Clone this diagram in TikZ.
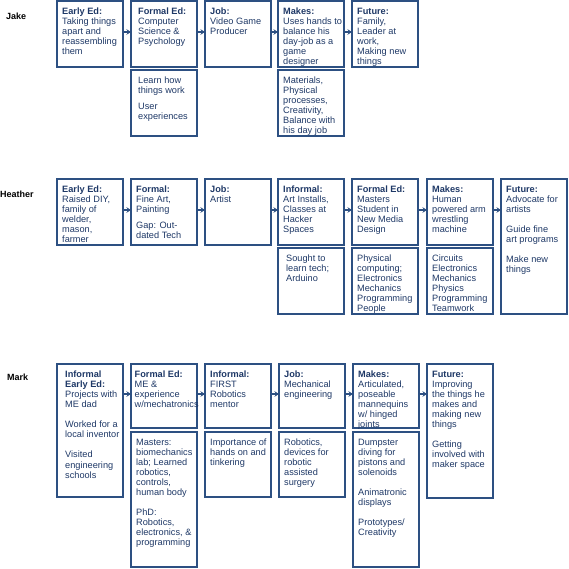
\documentclass[tikz,border=0pt]{standalone}
\usepackage{fontspec}
\setmainfont{Liberation Sans}
\usepackage{xcolor}
\usepackage{tikz}
\usetikzlibrary{arrows.meta,calc}
\definecolor{cardline}{RGB}{45,80,130}
\definecolor{cardink}{RGB}{30,56,102}
\tikzset{
  card/.style={draw=cardline, line width=1.8pt, outer sep=0pt, inner sep=0pt,
    anchor=north west, minimum width=66pt, minimum height=#1},
  card/.default=66pt,
  cardtext/.style={anchor=north west, align=left, inner xsep=5pt, inner ysep=6.5pt,
    text=cardink, font=\fontsize{9.2}{10.1}\selectfont},
  say/.style={label={[cardtext]north west:{#1}}},
  who/.style={anchor=west, inner sep=0pt, font=\fontsize{9}{10}\selectfont\bfseries},
  flow/.style={draw=cardline, line width=1.3pt, -{Stealth[length=4.5pt,width=5.5pt]}}
}
\begin{document}
\begin{tikzpicture}[x=1pt,y=-1pt]
	\useasboundingbox (0,0) rectangle (568,569);
	% Jake
	\node[who] (jake) at (6,16) {Jake};
	\node[card, say={\textbf{Early Ed:}\\Taking things\\apart and\\reassembling\\them}] (j1) at (57,1) {};
	\node[card, label={[cardtext,inner xsep=7pt]north west:{\textbf{Formal Ed:}\\Computer\\Science \&\\Psychology}}] (j2) at (131,1) {};
	\node[card, label={[cardtext,inner xsep=7pt]north west:{Learn how\\things work\\[6pt]User\\experiences}}] (j2b) at (131,70) {};
	\node[card, say={\textbf{Job:}\\Video Game\\Producer}] (j3) at (205,1) {};
	\node[card, say={\textbf{Makes:}\\Uses hands to\\balance his\\day-job as a\\game\\designer}] (j4) at (278,1) {};
	\node[card, say={Materials,\\Physical\\processes,\\Creativity,\\Balance with\\his day job}] (j4b) at (278,70) {};
	\node[card, say={\textbf{Future:}\\Family,\\Leader at\\work,\\Making new\\things}] (j5) at (352,1) {};
	% Heather
	\node[who] (heather) at (0,194) {Heather};
	\node[card, say={\textbf{Early Ed:}\\Raised DIY,\\family of\\welder,\\mason,\\farmer}] (h1) at (57,179) {};
	\node[card, say={\textbf{Formal:}\\Fine Art,\\Painting\\[6pt]Gap: Out-\\dated Tech}] (h2) at (131,179) {};
	\node[card, say={\textbf{Job:}\\Artist}] (h3) at (205,179) {};
	\node[card, say={\textbf{Informal:}\\Art Installs,\\Classes at\\Hacker\\Spaces}] (h4) at (278,179) {};
	\node[card, label={[cardtext,inner xsep=8pt]north west:{Sought to\\learn tech;\\Arduino}}] (h4b) at (278,248) {};
	\node[card, say={\textbf{Formal Ed:}\\Masters\\Student in\\New Media\\Design}] (h5) at (352,179) {};
	\node[card, say={Physical\\computing;\\Electronics\\Mechanics\\Programming\\People}] (h5b) at (352,248) {};
	\node[card, say={\textbf{Makes:}\\Human\\powered arm\\wrestling\\machine}] (h6) at (427,179) {};
	\node[card, say={Circuits\\Electronics\\Mechanics\\Physics\\Programming\\Teamwork}] (h6b) at (427,248) {};
	\node[card=135pt, say={\textbf{Future:}\\Advocate for\\artists\\[10pt]Guide fine\\art programs\\[10pt]Make new\\things}] (h7) at (501,179) {};
	% Mark
	\node[who] (mark) at (7,377) {Mark};
	\node[card=133pt, label={[cardtext,inner xsep=8pt]north west:{\textbf{Informal}\\\textbf{Early Ed:}\\Projects with\\ME dad\\[10pt]Worked for a\\local inventor\\[10pt]Visited\\engineering\\schools}}] (m1) at (57,364) {};
	\node[card=64pt, label={[cardtext,inner xsep=3.5pt]north west:{\textbf{Formal Ed:}\\ME \&\\experience\\w/mechatronics}}] (m2) at (131,364) {};
	\node[card=135pt, say={Masters:\\biomechanics\\lab; Learned\\robotics,\\controls,\\human body\\[10pt]PhD:\\Robotics,\\electronics, \&\\programming}] (m2b) at (131,432) {};
	\node[card=64pt, say={\textbf{Informal:}\\FIRST\\Robotics\\mentor}] (m3) at (205,364) {};
	\node[card=65pt, say={Importance of\\hands on and\\tinkering}] (m3b) at (205,432) {};
	\node[card=64pt, say={\textbf{Job:}\\Mechanical\\engineering}] (m4) at (279,364) {};
	\node[card=65pt, say={Robotics,\\devices for\\robotic\\assisted\\surgery}] (m4b) at (279,432) {};
	\node[card=64pt, say={\textbf{Makes:}\\Articulated,\\poseable\\mannequins\\w/ hinged\\joints}] (m5) at (353,364) {};
	\node[card=135pt, say={Dumpster\\diving for\\pistons and\\solenoids\\[10pt]Animatronic\\displays\\[10pt]Prototypes/\\Creativity}] (m5b) at (353,432) {};
	\node[card=134pt, say={\textbf{Future:}\\Improving\\the things he\\makes and\\making new\\things\\[10pt]Getting\\involved with\\maker space}] (m6) at (427,364) {};
	% Pfeile
	\foreach \a/\b in {j1/j2,j2/j3,j3/j4,j4/j5,h1/h2,h2/h3,h3/h4,h4/h5,h5/h6,h6/h7,m2/m3,m3/m4,m4/m5,m5/m6}
	\draw[flow] ($(\a.east)+(0,-2)$) -- ($(\a.east -| \b.west)+(0,-2)$);
	\draw[flow] ($(m1.east |- m2.west)+(0,-2)$) -- ($(m2.west)+(0,-2)$);
\end{tikzpicture}
\end{document}
